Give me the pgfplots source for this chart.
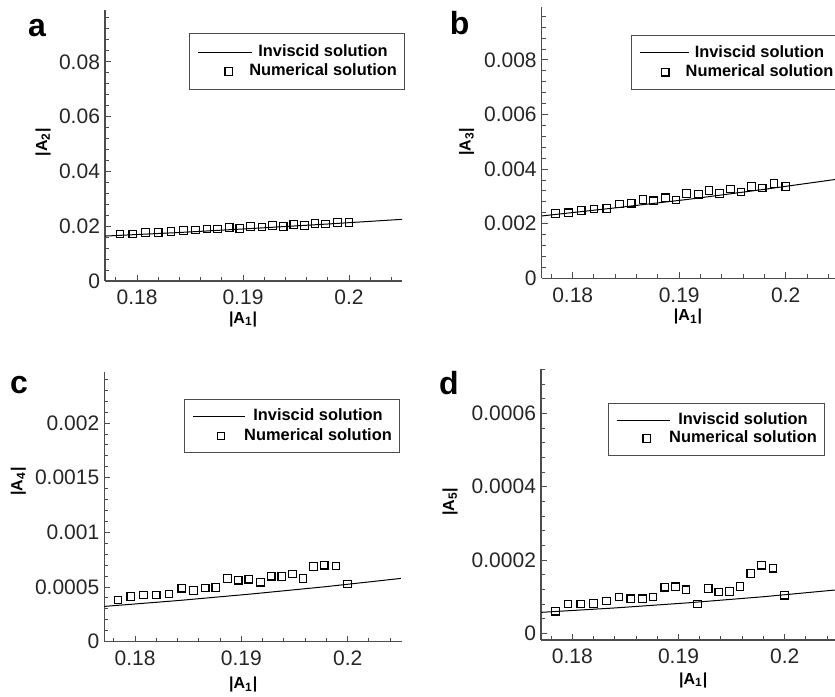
\documentclass[border=0pt]{standalone}
\usepackage{fontspec}
\setmainfont{Liberation Sans}
\usepackage{pgfplots}
\pgfplotsset{compat=1.18}
\definecolor{axgray}{gray}{0.3}
\tikzset{labfont/.style={font=\bfseries\fontsize{8}{9}\selectfont}}
\def\legpad{-15pt}
\pgfplotstableread{
x a2 a3 a4 a5
0.1784 0.01715 0.00238 0.000382 0.0000608
0.1796 0.01715 0.00240 0.000412 0.0000800
0.1808 0.01764 0.00249 0.000428 0.0000800
0.1820 0.01776 0.00254 0.000428 0.0000818
0.1832 0.01813 0.00256 0.000437 0.0000882
0.1844 0.01849 0.00272 0.000489 0.0000991
0.1855 0.01861 0.00275 0.000467 0.0000945
0.1866 0.01898 0.00288 0.000492 0.0000945
0.1876 0.01898 0.00284 0.000495 0.0000991
0.1887 0.01946 0.00295 0.000577 0.000126
0.1897 0.01922 0.00287 0.000562 0.000127
0.1907 0.01983 0.00310 0.000571 0.000119
0.1918 0.01971 0.00308 0.000544 0.0000800
0.1928 0.02032 0.00322 0.000599 0.000122
0.1938 0.01995 0.00310 0.000596 0.000113
0.1948 0.02056 0.00327 0.000620 0.000114
0.1958 0.02032 0.00316 0.000577 0.000128
0.1968 0.02092 0.00336 0.000687 0.000163
0.1978 0.02080 0.00331 0.000699 0.000186
0.1989 0.02129 0.00347 0.000693 0.000178
0.2000 0.02141 0.00337 0.000528 0.000104
}\numdata
\pgfplotstableread{
x a2 a3 a4 a5
0.177 0.0164 0.00228 0.000322 0.0000573
0.184 0.0177 0.00258 0.000376 0.0000694
0.191 0.0192 0.00290 0.000437 0.0000836
0.198 0.0208 0.00326 0.000504 0.000100
0.205 0.0225 0.00364 0.000579 0.000119
}\invdata
\pgfplotsset{
  panel/.style={
    scale only axis,
    axis lines=left,
    axis line style={-, axgray, line width=0.6pt},
    tick style={axgray, line width=0.5pt},
    tick align=inside,
    major tick length=3pt,
    minor tick length=2pt,
    xtick={0.18,0.19,0.2},
    minor xtick={0.178,0.180,...,0.2045},
    scaled x ticks=false, scaled y ticks=false,
    /pgf/number format/assume math mode=true,
    xticklabel style={/pgf/number format/fixed, /pgf/number format/precision=2, yshift=-1pt},
    yticklabel style={/pgf/number format/fixed, /pgf/number format/precision=4, xshift=1pt},
    tick label style={font=\fontsize{10.5}{12}\selectfont, text=black!85},
    legend cell align=center,
    legend style={draw=axgray, line width=0.5pt, fill=white, anchor=north west,
      font=\bfseries\fontsize{8.2}{9}\selectfont,
      inner xsep=4pt, inner ysep=5.3pt, row sep=2pt,
      nodes={inner sep=0pt, text height=6pt, text depth=1.7pt},
      /tikz/every odd column/.append style={column sep=7pt}},
  },
  invline/.style={black, line width=0.5pt, mark=none,
    legend image code/.code={\draw[overlay,##1] (-11.8pt,0pt) -- (11.8pt,0pt); \path (\legpad,0pt) -- (3pt,0pt);}},
  pts/.style={only marks, mark=square, mark size=1.9pt, mark options={line width=0.6pt, black},
    legend image code/.code={\draw[##1] plot coordinates {(0pt,0pt)};}},
}
\begin{document}
\begin{tikzpicture}
\path[use as bounding box] (0,0) rectangle (417.5pt,348pt);
% (a)
\def\legpad{-15.35pt}
\begin{axis}[panel, at={(52.5pt,207.5pt)}, anchor=south west,
  width=148.5pt, height=135.5pt,
  xmin=0.17698, xmax=0.2050, ymin=0, ymax=0.0989,
  ytick={0,0.02,0.04,0.06,0.08},
  minor ytick={0.004,0.008,...,0.0965},
  ylabel={|A\textsubscript{2}|}, xlabel={|A\textsubscript{1}|},
  every axis y label/.style={labfont, at={(rel axis cs:0,0.513)}, rotate=90, anchor=center, yshift=31pt},
  every axis x label/.style={labfont, at={(rel axis cs:0.465,0)}, anchor=center, yshift=-19pt},
  legend style={at={(rel axis cs:0.283,0.914)}}]
\addplot[invline] table[x=x,y=a2] {\invdata};
\addlegendentry{Inviscid solution}
\addplot[pts] table[x=x,y=a2] {\numdata};
\addlegendentry{Numerical solution}
\end{axis}
% (b)
\def\legpad{-12.8pt}
\begin{axis}[panel, at={(270.85pt,208.85pt)}, anchor=south west,
  width=146.65pt, height=135.5pt,
  xmin=0.17709, xmax=0.20463, ymin=0, ymax=0.00993,
  ytick={0,0.002,0.004,0.006,0.008},
  minor ytick={0.0004,0.0008,...,0.00965},
  ylabel={|A\textsubscript{3}|}, xlabel={|A\textsubscript{1}|},
  every axis y label/.style={labfont, at={(rel axis cs:0,0.504)}, rotate=90, anchor=center, yshift=37.5pt},
  every axis x label/.style={labfont, at={(rel axis cs:0.499,0)}, anchor=center, yshift=-19pt},
  legend style={at={(rel axis cs:0.303,0.898)}, inner ysep=4.8pt}]
\addplot[invline] table[x=x,y=a3] {\invdata};
\addlegendentry{Inviscid solution}
\addplot[pts] table[x=x,y=a3] {\numdata};
\addlegendentry{Numerical solution}
\end{axis}
% (c)
\def\legpad{-13.85pt}
\begin{axis}[panel, at={(52.15pt,27.15pt)}, anchor=south west,
  width=148.7pt, height=135pt,
  xmin=0.17711, xmax=0.20508, ymin=0, ymax=0.00247,
  ytick={0,0.0005,0.001,0.0015,0.002},
  minor ytick={0.0001,0.0002,...,0.00245},
  ylabel={|A\textsubscript{4}|}, xlabel={|A\textsubscript{1}|},
  every axis y label/.style={labfont, at={(rel axis cs:0,0.593)}, rotate=90, anchor=center, yshift=43pt},
  every axis x label/.style={labfont, at={(rel axis cs:0.467,0)}, anchor=center, yshift=-21.5pt},
  legend style={at={(rel axis cs:0.269,0.898)}, inner ysep=4.6pt,
    /tikz/every odd column/.append style={column sep=8.35pt}}]
\addplot[invline] table[x=x,y=a4] {\invdata};
\addlegendentry{Inviscid solution}
\addplot[pts] table[x=x,y=a4] {\numdata};
\addlegendentry{Numerical solution}
\end{axis}
% (d)
\def\legpad{-14.7pt}
\begin{axis}[panel, at={(270.5pt,28pt)}, anchor=south west,
  width=147pt, height=135.5pt,
  xmin=0.17705, xmax=0.20474, ymin=-0.000018, ymax=0.000721,
  ytick={0,0.0002,0.0004,0.0006},
  minor ytick={0.00004,0.00008,...,0.000715},
  ylabel={|A\textsubscript{5}|}, xlabel={|A\textsubscript{1}|},
  every axis y label/.style={labfont, at={(rel axis cs:0,0.510)}, rotate=90, anchor=center, yshift=45.5pt},
  every axis x label/.style={labfont, at={(rel axis cs:0.518,0)}, anchor=center, yshift=-20pt},
  legend style={at={(rel axis cs:0.229,0.876)}, inner ysep=4.6pt, row sep=1.6pt,
    /tikz/every odd column/.append style={column sep=8pt}}]
\addplot[invline] table[x=x,y=a5] {\invdata};
\addlegendentry{Inviscid solution}
\addplot[pts] table[x=x,y=a5] {\numdata};
\addlegendentry{Numerical solution}
\end{axis}
\node[font=\bfseries\fontsize{16}{18}\selectfont] at (18.5pt,334pt) {a};
\node[font=\bfseries\fontsize{16}{18}\selectfont] at (229.85pt,336.35pt) {b};
\node[font=\bfseries\fontsize{16}{18}\selectfont] at (9.5pt,155.5pt) {c};
\node[font=\bfseries\fontsize{16}{18}\selectfont] at (224.5pt,156.35pt) {d};
\end{tikzpicture}
\end{document}
